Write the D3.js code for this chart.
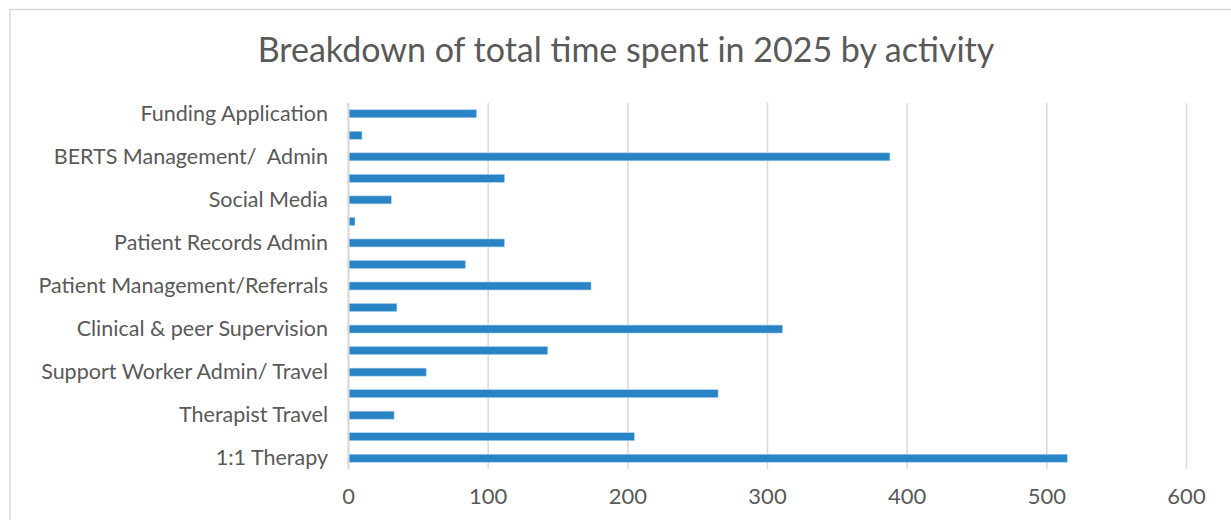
<!DOCTYPE html>
<html>
<head>
<meta charset="utf-8">
<script src="https://cdn.jsdelivr.net/npm/d3@7"></script>
<style>
  html, body { margin: 0; padding: 0; background: #fff; }
  svg { display: block; }
  text { font-family: "Lato", "DejaVu Sans", sans-serif; fill: #595959; }
</style>
</head>
<body>
<svg id="chart" width="1231" height="520"></svg>
<script>
// Categories, top to bottom (Excel shows only every other label)
const categories = [
  "Funding Application", "", "BERTS Management/  Admin", "", "Social Media", "",
  "Patient Records Admin", "", "Patient Management/Referrals", "",
  "Clinical & peer Supervision", "", "Support Worker Admin/ Travel", "",
  "Therapist Travel", "", "1:1 Therapy"
];
const hours = [92, 10, 388, 112, 31, 5, 112, 84, 174, 35, 311, 143, 56, 265, 33, 205, 515];
const xTicks = [0, 100, 200, 300, 400, 500, 600];
const title = "Breakdown of total time spent in 2025 by activity";

const svg = d3.select("#chart");
const plot = { left: 348, right: 1186, top: 103, bottom: 469 };

// chart frame
svg.append("rect")
  .attr("x", 10).attr("y", 9.5).attr("width", 1240).attr("height", 530)
  .attr("fill", "#fff").attr("stroke", "#d9d9d9").attr("stroke-width", 1.5);

svg.append("text")
  .attr("x", 626).attr("y", 62)
  .attr("text-anchor", "middle")
  .style("font-size", "34px")
  .text(title);

const x = d3.scaleLinear().domain([0, 600]).range([plot.left, plot.right]);
const idx = categories.map((d, i) => i);
const y = d3.scaleBand().domain(idx).range([plot.top, plot.bottom]).paddingInner(0.63).paddingOuter(0.315);

// gridlines
const grid = svg.append("g")
  .attr("transform", `translate(0,${plot.bottom})`)
  .call(d3.axisBottom(x).tickValues(xTicks).tickSize(-(plot.bottom - plot.top)).tickFormat(""));
grid.select(".domain").remove();
grid.selectAll(".tick line").attr("stroke", "#d9d9d9").attr("stroke-width", 1.5);

// x labels
const xa = svg.append("g")
  .attr("transform", `translate(0,${plot.bottom})`)
  .call(d3.axisBottom(x).tickValues(xTicks).tickSize(0).tickPadding(19));
xa.select(".domain").remove();
xa.selectAll("text").style("font-size", "22px").attr("fill", "#595959");

// bars
svg.append("g").selectAll("rect")
  .data(hours)
  .join("rect")
  .attr("x", x(0))
  .attr("y", (d, i) => y(i))
  .attr("width", d => x(d) - x(0))
  .attr("height", y.bandwidth())
  .attr("fill", "#2984c6")
  .attr("stroke", "#a9cdea")
  .attr("stroke-width", 0.6);

// y axis
const ya = svg.append("g")
  .attr("transform", `translate(${plot.left},0)`)
  .call(d3.axisLeft(y).tickSize(0).tickPadding(20).tickFormat(i => categories[i]));
ya.select(".domain").attr("stroke", "#d9d9d9").attr("stroke-width", 2);
ya.selectAll("text").style("font-size", "21.5px").style("white-space", "pre").attr("fill", "#595959");
</script>
</body>
</html>
